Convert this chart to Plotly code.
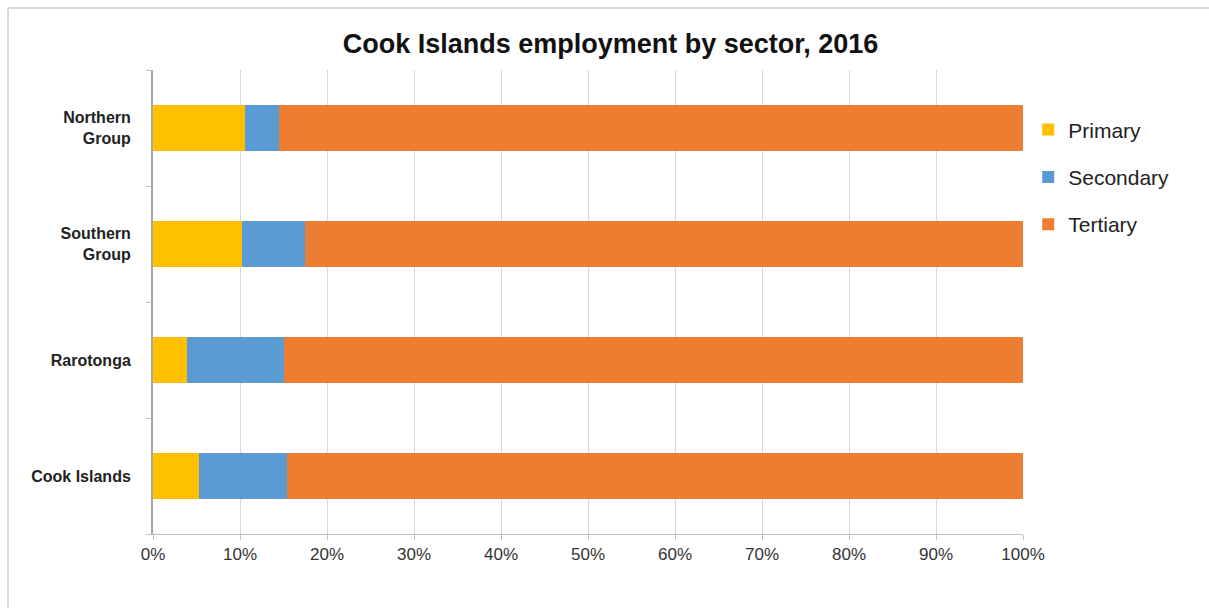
import plotly.graph_objects as go

# Share of employment by sector (%), 2016
regions = ["Northern<br>Group", "Southern<br>Group", "Rarotonga", "Cook Islands"]
primary = [10.6, 10.2, 3.9, 5.3]
secondary = [3.9, 7.3, 11.1, 10.1]
tertiary = [85.5, 82.5, 85.0, 84.6]

sectors = ["Primary", "Secondary", "Tertiary"]
colors = ["#FFC000", "#5B9BD5", "#ED7D31"]
x_ticks = [0, 10, 20, 30, 40, 50, 60, 70, 80, 90, 100]

fig = go.Figure()
for name, vals, col in zip(sectors, [primary, secondary, tertiary], colors):
    fig.add_trace(go.Bar(
        y=regions, x=vals, name=name, orientation="h",
        marker=dict(color=col, line=dict(width=0)),
        legendgroup=name, width=0.39,
    ))

fig.update_layout(
    barmode="stack",
    width=1209, height=608,
    paper_bgcolor="white", plot_bgcolor="white",
    margin=dict(l=153, r=186, t=70, b=74),
    title=dict(
        text="<b>Cook Islands employment by sector, 2016</b>",
        x=0.505, xanchor="center", y=1 - 44 / 608, yanchor="middle",
        font=dict(family="Liberation Sans, Arial", size=27, color="#111111"),
    ),
    font=dict(family="Liberation Sans, Arial", color="#333333"),
    legend=dict(
        x=1.006, xanchor="left", y=0.915, yanchor="top",
        traceorder="grouped", tracegroupgap=17,
        font=dict(size=21, color="#222222"),
        itemwidth=30,
    ),
    showlegend=True,
)

fig.update_xaxes(
    range=[0, 100], tickvals=x_ticks,
    ticktext=[f"{v}%" for v in x_ticks],
    showgrid=True, gridcolor="#d9d9d9", gridwidth=1,
    showline=True, linecolor="#bfbfbf", linewidth=1,
    ticks="outside", ticklen=5, tickcolor="#bfbfbf",
    tickfont=dict(size=17, color="#333333"),
    zeroline=False, fixedrange=True,
)
fig.update_yaxes(
    autorange="reversed",
    showline=True, linecolor="#a6a6a6", linewidth=2,
    ticks="outside", ticklen=5, tickcolor="#bfbfbf",
    tickson="boundaries",
    tickfont=dict(size=16, color="#222222"),
    ticklabelstandoff=17,
    showgrid=False,
)

# Bold category labels
fig.update_yaxes(tickvals=regions, ticktext=[f"<b>{r}</b>" for r in regions])

# Thin frame along the top and left of the chart area
fig.add_shape(type="line", xref="paper", yref="paper",
              x0=-145 / 870, x1=1209 / 870, y0=1 + 62 / 464, y1=1 + 62 / 464,
              line=dict(color="#d9d9d9", width=2))
fig.add_shape(type="line", xref="paper", yref="paper",
              x0=-145 / 870, x1=-145 / 870, y0=-74 / 464, y1=1 + 62 / 464,
              line=dict(color="#d9d9d9", width=2))

fig.write_html("out.html")
